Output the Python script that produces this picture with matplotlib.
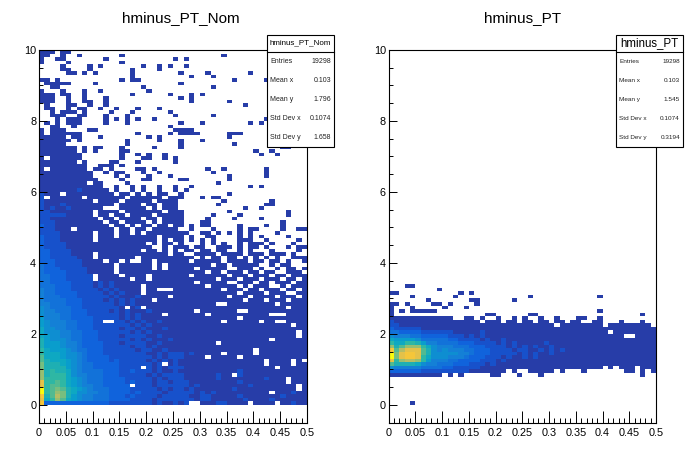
"""
plot.py - two ROOT-style COLZ 2D histograms side by side
(hminus_PT_Nom vs hminus_PT), with ROOT stat boxes.
"""

import numpy as np
import matplotlib
matplotlib.use("Agg")
import matplotlib.pyplot as plt
from matplotlib.colors import LinearSegmentedColormap
from matplotlib.patches import Rectangle
from matplotlib.lines import Line2D
from matplotlib.ticker import MultipleLocator, FuncFormatter

plt.rcParams["font.family"] = ["Liberation Sans", "DejaVu Sans"]

# ── Data: bin contents ─────────────────────────────────────
# one string per y-bin (0.1 wide), top row first; one char per x-bin (0.01 wide)
# '.' = empty, otherwise the count level in base 36 (1..K)
nom_rows = [
    "111.11...." ".........." ".........." ".........." "..........",  # 9.9
    "11..1..1.." ".....1...." ".........." "....1....." "..........",
    "1..11....." "..1......." ".....1.1.." ".........." "..........",
    "1....1...." ".....1...." ".........." ".........." "..........",
    "....1....1" ".1.......1" "..1.1..1.." ".........." "..........",
    "....11...1" ".......1.." "..1......." ".........." "..........",
    ".....11.1." "1......1.." "......1..." ".1.......1" "..........",
    ".........." ".......1.." "........1." "..1......." "..........",
    "11.1......" ".....1.11." ".........." "......1..." "..1.......",
    ".11111...." "1........." "......1..." ".........." "..........",
    "..11......" ".........1" ".........." "..1......." "..........",  # 8.9
    "1...1...1." ".1........" "1........." ".........." "..........",
    "111.11..1." ".......1.." "....1...1." "1........." "..........",
    "111..1..1." "..1......." "......1.1." ".........." "..........",
    "111..1..11" "..1......." "........1." ".....1...." "..........",
    ".1...11..1" "..1......." ".........." "........1." "..........",
    ".11..1.11." ".1..1...1." "..1......." ".........." "..........",
    "..1.111.1." "...1...1.." "....1....." ".........." "..........",
    "..111..11." "..1...1..." ".....1...." "..1......." "..........",
    "...1.111.." "..1.1.1.1." ".1........" ".........." "..1.......",
    ".1.1.111.." "..1...1..." "......1..." "1........1" ".1........",  # 7.9
    "..11..1..." ".........." "....1....." ".........." "..........",
    "1.111....1" "1........." ".....1111." ".........." "..........",
    "1.111111.." "........1." "....1.1111" ".....111.." "..........",
    "11111.11.." ".1........" "1.1......." ".....1...." "..........",
    "111111.1.." "......1..." "..1...1..." "1........." "..........",
    "11111....." "......1..." "......1..." "......1..." "..........",
    "1111111.1." "11...1...." ".1....1..." ".........." ".....11...",
    "1111111.1." "1....11..." ".........." ".........." "1..1......",
    "11111111.." ".....1..1." "1..1......" ".........." ".1..1.....",
    "1.111111.." ".....1...1" "1..1.1...." ".........." "..........",  # 6.9
    "1111111.1." "...11...1." ".....1...." ".........." "..........",
    "111111111." ".111.1...." ".........." ".........." "..........",
    "1.1111111." "11.1....11" ".1........" ".1..1....." "..1.......",
    "1111111111" "..1.11...1" "..1......." "..1......." "..1.......",
    "1111111111" "....1.1..." "1...1....." ".....1...." "..1.......",
    "1111111111" "1....1...1" "1.....11.." ".....1...." "..........",
    "111111111." "11....1..." ".........." "...1......" "..........",
    "1111111111" "11..1..1.1" "..1..1..1." ".........1" ".1........",
    "1111111211" "111.1..1.1" "..1..1.1.." ".........." "..........",
    "2111.11111" "1111.11.1." "1.11..1..." ".....1...." "..........",  # 5.9
    "2.111111.1" "111111.111" "111.111..." "1.11......" "..........",
    "2111111111" ".1111.1111" "1.1111...." "....1....." "...1......",
    "2111211111" "1111.1111." "11.111...." "...1......" "..11......",
    "2121121111" "11...11111" ".1.111...." "........1." ".1........",
    "2211111111" ".1111.1111" "111.111..." ".....1...." "......1...",
    "2222211111" ".11.11.111" "1.11111..." "..1....1.." "......1...",
    "2211111111" "1.11.1111." "11.1111..." ".1....1..." ".1........",
    "2221111111" "11.11.1111" ".1.1111..." "11........" ".....1....",
    "3221111111" "111.11.1.1" "1.11.11.1." "11.....1.." "..1..1....",
    "222111.111" "1111.11.11" ".1111" "1..1...1.." "..1.11...." "1..11",  # 4.9
    "2222111111" ".111.11.1." "11111" "111..11.1." "1.1.1....1" ".....",
    "3222111111" ".111.11111" "11.11" "11.1..11.." "..1.1.1..." ".1...",
    "3222111111" ".111111111" "11.1." "11.1.1.1.." "..111..1.." "...1.",
    "3222211111" "1111111111" ".1.11" ".1...1.1.1" "..1.111.1." "..1..",
    "3222211111" "1111111111" "1..1." "111.11..11" "1.1.11.1.." ".1.11",
    "3322221111" "111111111." "11.1." "1.11.11.11" "..1.1...1." "...1.",
    "3322221111" ".111111111" "1111." "11..1111.1" "111.111.11" "1.1..",
    "3322222111" ".1111111.1" "11111" "1111.1.11." "11.1.1.1.1" "..111",
    "3332222211" "11.11.1..1" "1.111" "111.11111." "1111.11.11" ".1..1",
    "4332222211" "1111.11111" "1.1.1" "1111111.11" ".11111..1." "11...",  # 3.9
    "4333222221" "1111.11111" "1.1.1" "1111.11111" "..111.1..1" ".11.1",
    "4333322221" "1111.11111" "11111" "111111.11." "111.11.11." ".111.",
    "4433322222" ".1111.1111" ".1111" "111.111111" ".111.111.1" "1.111",
    "4433322222" ".111111.11" ".1111" "11111111.1" "11.111.111" ".11.1",
    "4433332222" "1212111111" "11111" "1111.11111" "..111.11.1" "11.11",
    "4443332222" "121211111." "11111" "111111.111" "11.1.111.." "1.111",
    "5443332222" "212121111." "11..." "111111111." "111.11.111" ".11.1",
    "5443333222" "221212111." "11111" "1111111111" "11.1111.11" "1..11",
    "5444333222" "2221211121" "1111." "1111111111" ".111.1111." "111.1",
    "5444433322" "2212121211" "1.111" "1111111111" "111.111.11" "1.111",  # 2.9
    "5544433322" "2222121211" "11111" "11111111.." "111111111." "11111",
    "6544443322" "222221.12." "11111" "1111111111" "1111111111" "1.111",
    "6554443332" "2221212111" "21111" "1111.11111" "11..111111" "11111",
    "6555443332" "2222212121" "111.1" "111111.111" "11111111.." ".1111",
    "7555443333" "2222212121" "11111" "1111111111" "11.1111111" "11111",
    "7655544333" "22..221212" "11211" "111111111." "111111.11." ".1111",
    "7655544333" "2222222121" "21111" "1111111111" "1111111111" "11.11",
    "8665544333" "2222212212" "11121" "1111111111" "1111111111" "11111",
    "8666554433" "3222222121" "21111" "1111111111" "1111111111" "111.1",
    "8766554433" "3222212222" "11211" "1111111111" "1111111111" "111.1",  # 1.9
    "9766654433" "3222222121" "21112" "1111111111" "11111111.1" "11111",
    "9777655433" "3322212222" "11211" "11111111.1" "1111111111" "11111",
    "9777655433" "3322222122" "12111" "1111111111" "1111111111" "11111",
    "A877765443" "3322222212" "21121" "1111111111" "11111.1111" "11111",
    "A888766543" "3322222222" "11212" "221211111." "11111.1111" "11111",
    "B888766543" "3332222222" "21212" "221111.111" "11.1111111" "11111",
    "B988876543" "3332322222" "12121" "2111111111" "1111111.11" "11.1.",
    "C999876544" "3333322222" "212.1" "2111111111" "1111111.11" "11.11",
    "C999976544" "333332222." "21212" "2211111111" "111111111." "11111",
    "D9A9986544" "4433322322" "21211" "2111111111" "1121111111" "11111",  # 0.9
    "D9AAA86554" "4433322222" "12122" "2211111121" "1.21111111" "11111",
    "DAAAA87654" "4433332222" "21212" "2211111121" "1111111211" "1.111",
    "GAABA87654" "4433332322" "21221" "2221111111" "1121111111" "1.111",
    "GABBA87655" "4433333.22" "21222" "2221211111" "1111211111" "111.1",
    "KABCB98765" "4443333222" "22121" "2212111111" "1211111111" "111.1",
    "KABDC98665" "5443333232" "22212" "2222121211" "11111111.1" "11211",
    "H9BEC97655" "4443332322" "22122" "2221122111" "1121111111" "21111",
    "G8ADB87655" "4443333222" "21222" "2222122111" "1112111121" "11111",
    "H333333333" "3332222222" "21211" "212..11122" "1111.1111." "11211",  # 0.0
]

pt_rows = [
    "...11....." ".........." ".........." ".........." "..........",  # 3.3
    ".........1" ".........." ".........." ".........." "..........",
    "11........" "...1.1...." ".........." ".........." "..........",
    "....1....." "..1......." "......1..." ".........1" "..........",
    ".......1.." ".....11..." "...1......" ".........." "..........",
    "11.1....11" ".1....1..." ".........." ".........." "..........",
    "1...1....." "1...1....." ".........." ".........." "..........",
    "1.1.11111." ".........." ".........." ".........1" "..........",
    "1........." "........11" "......11.." ".........." ".......1..",
    "1111111111" "11..11.1.." "1..1.1..1." ".1...11..1" "..........",
    "2111111111" "1111111.11" "1.11.11.11" ".11.11..11" "...1...1..",  # 2.3
    "2211111111" "1111111111" "1111111111" "1.11111111" ".11111111.",
    "3222221111" "1111111111" "1111111111" "1111111111" "1111111111",
    "4433332222" "2211111211" "1111111111" "1111111111" "1.11111111",
    "6555443333" "3222121211" "1111111111" "1111111111" "1111..1111",
    "8777764444" "4332222121" "1211111111" "1111111111" "1111111111",
    "A88AA97554" "4443332222" "1212111112" "1111111111" "1111111111",
    "D9BDDDA865" "5544433322" "2212121211" "2111111111" "1111111111",
    "HBEGGGB965" "6555443332" "2221221121" "2121111111" "1111111111",
    "KCGHHGB966" "6665543332" "2222121211" "2111111111" "1111111111",
    "KCGHHGA866" "6555433322" "2121121211" "1111111111" "1111111111",  # 1.3
    "GADEEDA755" "5443333222" "1211111111" "1111111111" "1111111111",
    "B999986554" "4433322212" "1111111111" "1111111111" "1111111111",
    "6555554444" "3322222111" "1111111111" "1111111111" ".1.111.111",
    "3333332222" "2222211111" "11.1..1111" "1.1...1..." "....11.1.1",
    "1111111111" ".1.1.....1" "1...1...1." ".........." ".......1..",
    ".........." ".........." ".........." ".........." "..........",
    ".........." ".........." ".........." ".........." "..........",
    ".........." ".........." ".........." ".........." "..........",
    ".........." ".........." ".........." ".........." "..........",
    ".........." ".........." ".........." ".........." "..........",
    ".........." ".........." ".........." ".........." "..........",
    ".........." ".........." ".........." ".........." "..........",
    "....1....." ".........." ".........." ".........." "..........",  # 0.0
]

titles = ["hminus_PT_Nom", "hminus_PT"]
stat_labels = ["Entries", "Mean x", "Mean y", "Std Dev x", "Std Dev y"]
nom_stats = ["19298", "0.103", "1.796", "0.1074", "1.658"]
pt_stats = ["19298", "0.103", "1.545", "0.1074", "0.3194"]

N_XBINS = 50
X_MAX = 0.5
Y_BIN = 0.1
Z_MAX = 20


def decode(rows):
    grid = []
    for r in rows[::-1]:
        r = r.ljust(N_XBINS, ".")[:N_XBINS]
        grid.append([0 if c == "." else int(c, 36) for c in r])
    return np.ma.masked_equal(np.array(grid, dtype=float), 0)


# ── ROOT kBird palette ─────────────────────────────────────
stops = [0.0, 0.125, 0.25, 0.375, 0.5, 0.625, 0.75, 0.875, 1.0]
red = [0.2082, 0.0592, 0.0780, 0.0232, 0.1802, 0.5301, 0.8186, 0.9956, 0.9764]
green = [0.1664, 0.3599, 0.5041, 0.6419, 0.7178, 0.7492, 0.7328, 0.7862, 0.9832]
blue = [0.5293, 0.8684, 0.8385, 0.7914, 0.6425, 0.4662, 0.3499, 0.1968, 0.0539]
kbird = LinearSegmentedColormap.from_list(
    "kBird", list(zip(stops, zip(red, green, blue))), N=255)

# ── Figure layout (pixel geometry of the ROOT canvas) ──────
W, H = 698, 476
fig = plt.figure(figsize=(W / 100, H / 100), dpi=100)


def fx(px):
    return px / W


def fy(py):
    return 1 - py / H


frames = [(39, 307), (388.7, 656)]
top, bottom = 50, 422.7
grids = [decode(nom_rows), decode(pt_rows)]
stats = [nom_stats, pt_stats]
boxes = [(267, 334), (616, 683)]
box_title_size = [5.8, 8.3]
box_text_size = [5.0, 4.6]
title_x = [181, 523]

for k in range(2):
    x0, x1 = frames[k]
    ax = fig.add_axes([fx(x0), fy(bottom), (x1 - x0) / W, (bottom - top) / H])
    z = grids[k]
    xe = np.linspace(0, X_MAX, N_XBINS + 1)
    ye = np.arange(z.shape[0] + 1) * Y_BIN
    ax.pcolormesh(xe, ye, z, cmap=kbird, vmin=0, vmax=Z_MAX,
                  shading="flat", edgecolors="none", antialiased=False)
    ax.set_xlim(0, X_MAX)
    ax.set_ylim(-0.5, 10)

    ax.xaxis.set_major_locator(MultipleLocator(0.05))
    ax.xaxis.set_minor_locator(MultipleLocator(0.01))
    ax.yaxis.set_major_locator(MultipleLocator(2))
    ax.yaxis.set_minor_locator(MultipleLocator(0.5))
    ax.xaxis.set_major_formatter(FuncFormatter(lambda v, p: f"{v:g}"))
    ax.yaxis.set_major_formatter(FuncFormatter(lambda v, p: f"{v:g}"))
    ax.tick_params(axis="x", which="major", direction="in", length=8.4,
                   width=0.7, labelsize=7.8, pad=3.5)
    ax.tick_params(axis="x", which="minor", direction="in", length=3.6, width=0.7)
    ax.tick_params(axis="y", which="major", direction="in", length=5.8,
                   width=0.7, labelsize=7.8, pad=2)
    ax.tick_params(axis="y", which="minor", direction="in", length=2.9, width=0.7)
    for s in ax.spines.values():
        s.set_linewidth(0.8)

    fig.text(fx(title_x[k]), fy(18.5), titles[k], ha="center", va="center",
             fontsize=11)

    # stat box
    bx0, bx1 = boxes[k]
    by0, by1, bdiv = 34.5, 146.7, 52
    fig.add_artist(Rectangle((fx(bx0), fy(by1)), (bx1 - bx0) / W, (by1 - by0) / H,
                             transform=fig.transFigure, facecolor="white",
                             edgecolor="black", linewidth=0.8, zorder=5))
    fig.add_artist(Line2D([fx(bx0), fx(bx1)], [fy(bdiv), fy(bdiv)],
                          transform=fig.transFigure, color="black",
                          linewidth=0.8, zorder=6))
    fig.text(fx((bx0 + bx1) / 2), fy((by0 + bdiv) / 2), titles[k], ha="center",
             va="center", fontsize=box_title_size[k], zorder=7)
    row_h = (by1 - bdiv) / len(stat_labels)
    for i, (lab, val) in enumerate(zip(stat_labels, stats[k])):
        yy = fy(bdiv + (i + 0.5) * row_h)
        fig.text(fx(bx0 + 3), yy, lab, ha="left", va="center",
                 fontsize=box_text_size[k], color="#222222", zorder=7)
        fig.text(fx(bx1 - 3), yy, val, ha="right", va="center",
                 fontsize=box_text_size[k], color="#222222", zorder=7)

fig.savefig("out.png", dpi=100)
plt.close(fig)
print("Saved: out.png")
